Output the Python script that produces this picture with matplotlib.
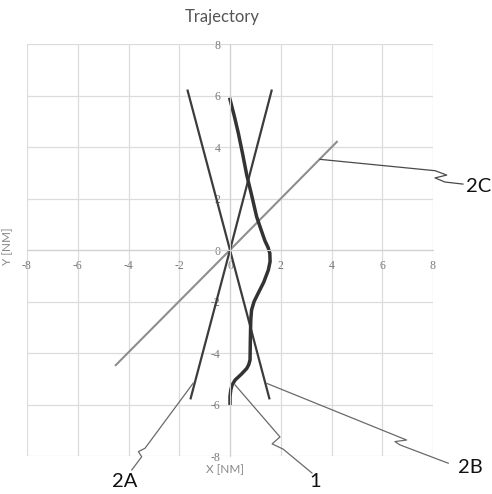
import matplotlib
matplotlib.use("Agg")
import matplotlib.pyplot as plt
import numpy as np

plt.rcParams["axes.unicode_minus"] = False

# ---- data ----
ticks = [-8, -6, -4, -2, 0, 2, 4, 6, 8]

line_2A_x = [1.64, 0.0, -1.55]
line_2A_y = [6.19, 0.0, -5.76]

line_2B_x = [-1.67, 0.0, 1.55]
line_2B_y = [6.19, 0.0, -5.76]

line_2C_x = [-4.53, 0.0, 4.24]
line_2C_y = [-4.50, 0.0, 4.23]

curve_1_x = [0.0, 0.17, 0.33, 0.50, 0.66, 0.86, 1.05, 1.22, 1.38, 1.50, 1.57, 1.58,
             1.51, 1.33, 1.11, 0.95, 0.85, 0.82, 0.81, 0.80, 0.79, 0.74, 0.66,
             0.45, 0.20, 0.08, 0.03, 0.0, 0.0]
curve_1_y = [5.85, 5.20, 4.53, 3.72, 2.91, 2.10, 1.29, 0.80, 0.35, 0.10, -0.13, -0.45,
             -0.78, -1.25, -1.68, -2.00, -2.33, -2.70, -3.10, -3.60, -4.27, -4.45, -4.60,
             -4.82, -5.05, -5.25, -5.44, -5.70, -5.95]

# callout leaders (data coords, drawn outside axes too)
leader_2C_x = [3.55, 8.08, 8.54, 8.08, 8.47, 9.18]
leader_2C_y = [3.52, 3.08, 2.91, 2.80, 2.64, 2.56]
leader_2A_x = [-1.45, -3.35, -3.61, -3.48, -3.87]
leader_2A_y = [-5.17, -7.70, -7.83, -8.03, -8.54]
leader_1_x = [0.20, 1.97, 1.66, 2.09, 3.23]
leader_1_y = [-5.24, -7.26, -7.53, -7.73, -8.66]
leader_2B_x = [1.45, 6.96, 6.50, 6.70, 8.60]
leader_2B_y = [-5.18, -7.38, -7.44, -7.57, -8.28]

labels = ["2C", "2A", "1", "2B"]
label_x = [9.30, -4.14, 3.35, 9.00]
label_y = [2.46, -9.0, -9.0, -8.43]
label_ha = ["left", "center", "center", "left"]

# ---- figure ----
fig = plt.figure(figsize=(4.92, 4.94), dpi=100)
ax = fig.add_axes([27/492, 1-456/494, 406/492, 412/494])
ax.set_xlim(-8, 8)
ax.set_ylim(-8, 8)

for s in ["top", "right"]:
    ax.spines[s].set_visible(False)
ax.spines["left"].set_position("zero")
ax.spines["bottom"].set_position("zero")
ax.spines["left"].set_color("#d0d0d0")
ax.spines["bottom"].set_color("#d0d0d0")
ax.set_xticks(ticks)
ax.set_yticks(ticks)
ax.grid(True, color="#dcdcdc", lw=0.9)
ax.set_axisbelow(True)
ax.tick_params(length=0, colors="#7a7a7a", labelsize=8.5, pad=7)
for lab in ax.get_xticklabels() + ax.get_yticklabels():
    lab.set_family("Liberation Serif")

ax.plot(line_2C_x, line_2C_y, color="#8e8e8e", lw=1.5, solid_capstyle="butt")
ax.plot(line_2A_x, line_2A_y, color="#3c3c3c", lw=1.6)
ax.plot(line_2B_x, line_2B_y, color="#3c3c3c", lw=1.6)
ax.plot(curve_1_x, curve_1_y, color="#333333", lw=2.5)

ax.plot(leader_2C_x, leader_2C_y, color="#4a4a4a", lw=0.9, clip_on=False)
for lx, ly in [(leader_2A_x, leader_2A_y), (leader_1_x, leader_1_y), (leader_2B_x, leader_2B_y)]:
    ax.plot(lx, ly, color="#6a6a6a", lw=0.9, clip_on=False)

for t, x, y, ha in zip(labels, label_x, label_y, label_ha):
    ax.text(x, y, t, ha=ha, va="center", fontsize=14.5, family="Lato", color="#111111",
            clip_on=False)

fig.text(222/492, 1-17/494, "Trajectory", ha="center", va="center", fontsize=12,
         family="Lato", color="#555555")
fig.text(225/492, 1-470/494, "X [NM]", ha="center", va="center", fontsize=8.5,
         family="Lato", color="#888888")
fig.text(8/492, 1-246/494, "Y [NM]", ha="center", va="center", fontsize=8.5,
         family="Lato", color="#888888", rotation=90)

fig.savefig("out.png", dpi=100)
